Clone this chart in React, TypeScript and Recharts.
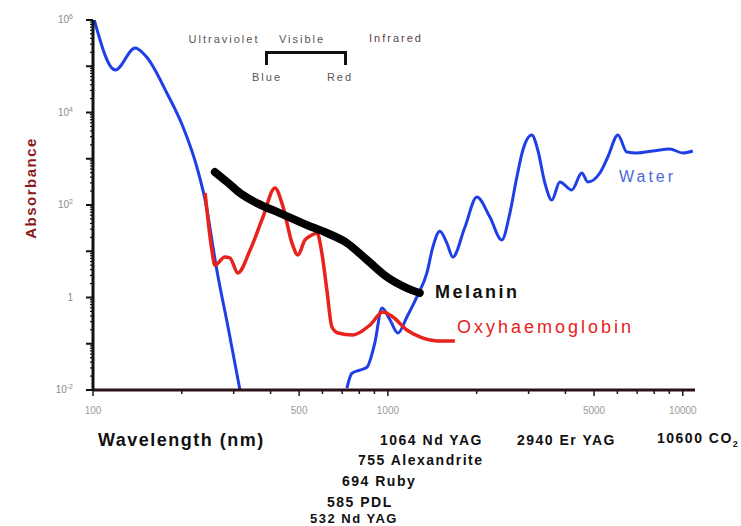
import React from "react";
import { LineChart, Line, XAxis, YAxis } from "recharts";

// absorption spectra, wavelength (nm) vs absorbance
const waterUv = [
  { w: 101, a: 1000000 },
  { w: 119, a: 83000 },
  { w: 139, a: 248000 },
  { w: 152, a: 158000 },
  { w: 178, a: 26400 },
  { w: 202, a: 4860 },
  { w: 225, a: 664 },
  { w: 240, a: 128 },
  { w: 263, a: 3.9 },
  { w: 287, a: 0.23 },
  { w: 315, a: 0.01 },
];

const waterIr = [
  { w: 726, a: 0.011 },
  { w: 755, a: 0.023 },
  { w: 804, a: 0.027 },
  { w: 849, a: 0.031 },
  { w: 903, a: 0.104 },
  { w: 955, a: 0.59 },
  { w: 1016, a: 0.33 },
  { w: 1081, a: 0.17 },
  { w: 1160, a: 0.38 },
  { w: 1254, a: 1.03 },
  { w: 1356, a: 3.4 },
  { w: 1421, a: 12.4 },
  { w: 1500, a: 27 },
  { w: 1585, a: 15 },
  { w: 1660, a: 7.5 },
  { w: 1824, a: 33 },
  { w: 2003, a: 149 },
  { w: 2217, a: 55 },
  { w: 2433, a: 17.5 },
  { w: 2592, a: 67 },
  { w: 2737, a: 403 },
  { w: 2869, a: 1545 },
  { w: 3077, a: 3265 },
  { w: 3223, a: 1545 },
  { w: 3406, a: 299 },
  { w: 3597, a: 128 },
  { w: 3828, a: 314 },
  { w: 4204, a: 211 },
  { w: 4545, a: 492 },
  { w: 4764, a: 314 },
  { w: 5233, a: 492 },
  { w: 5568, a: 1091 },
  { w: 6025, a: 3265 },
  { w: 6457, a: 1400 },
  { w: 6983, a: 1330 },
  { w: 7912, a: 1470 },
  { w: 9036, a: 1626 },
  { w: 10000, a: 1330 },
  { w: 10815, a: 1470 },
];

const oxyhaemoglobin = [
  { w: 240, a: 182 },
  { w: 253, a: 10.6 },
  { w: 259, a: 5 },
  { w: 280, a: 7.5 },
  { w: 291, a: 7.2 },
  { w: 310, a: 3.4 },
  { w: 341, a: 10.6 },
  { w: 377, a: 55 },
  { w: 414, a: 233 },
  { w: 441, a: 91 },
  { w: 473, a: 15 },
  { w: 495, a: 8.3 },
  { w: 523, a: 17.5 },
  { w: 553, a: 22.4 },
  { w: 575, a: 24.8 },
  { w: 597, a: 9.2 },
  { w: 621, a: 1.45 },
  { w: 646, a: 0.23 },
  { w: 677, a: 0.171 },
  { w: 761, a: 0.155 },
  { w: 869, a: 0.254 },
  { w: 962, a: 0.486 },
  { w: 1040, a: 0.379 },
  { w: 1160, a: 0.198 },
  { w: 1283, a: 0.14 },
  { w: 1466, a: 0.115 },
  { w: 1687, a: 0.115 },
];

const melanin = [
  { w: 259, a: 517 },
  { w: 285, a: 314 },
  { w: 315, a: 182 },
  { w: 360, a: 110 },
  { w: 430, a: 67 },
  { w: 531, a: 37 },
  { w: 621, a: 24.8 },
  { w: 726, a: 15.1 },
  { w: 849, a: 6.5 },
  { w: 993, a: 2.77 },
  { w: 1160, a: 1.6 },
  { w: 1283, a: 1.25 },
];

const xTicks = [100, 200, 300, 400, 500, 600, 700, 800, 900, 1000, 2000, 3000, 4000, 5000, 6000, 7000, 8000, 9000, 10000];
const xLabels = [100, 500, 1000, 5000, 10000];
const yDecades = [0.01, 0.1, 1, 10, 100, 1000, 10000, 100000, 1000000];
const yTicks = yDecades.flatMap((d) => (d < 1000000 ? [1, 2, 3, 4, 5, 6, 7, 8, 9].map((m) => m * d) : [d]));

const font = "'Liberation Sans', Arial, sans-serif";

const XTick = (props: any) => {
  const { x, y, payload } = props;
  const v = payload.value;
  const major = xLabels.includes(v);
  return (
    <g>
      <line x1={x} x2={x} y1={y} y2={y + (major ? 6 : 4)} stroke="#2a1216" strokeWidth={1.5} />
      {major && (
        <text x={x} y={y + 24} textAnchor="middle" fontSize={10} fill="#9a9a9a" fontFamily={font}>
          {v}
        </text>
      )}
    </g>
  );
};

const YTick = (props: any) => {
  const { x, y, payload } = props;
  const e = Math.log10(payload.value);
  const decade = Math.abs(e - Math.round(e)) < 1e-6;
  const exp = Math.round(e);
  const showLabel = decade && exp % 2 === 0;
  return (
    <g>
      <line x1={x} x2={x - (decade ? 7 : 3)} y1={y} y2={y} stroke="#111" strokeWidth={decade ? 2 : 1.2} />
      {showLabel && (
        <text x={x - 20} y={y + 3} textAnchor="end" fontSize={10} fill="#8a8a8a" fontFamily={font}>
          {exp === 0 ? "1" : "10"}
          {exp !== 0 && (
            <tspan dy={-4} fontSize={7}>
              {exp}
            </tspan>
          )}
        </text>
      )}
    </g>
  );
};

const Note = ({ x, y, size, color, weight = 400, spacing = 0, center = false, children }: any) => (
  <div
    style={{
      position: "absolute",
      left: x,
      top: y,
      transform: center ? "translate(-50%, -50%)" : "translate(0, -50%)",
      fontFamily: font,
      fontSize: size,
      fontWeight: weight,
      letterSpacing: spacing,
      color,
      whiteSpace: "nowrap",
      lineHeight: 1,
    }}
  >
    {children}
  </div>
);

export default function App() {
  return (
    <div style={{ position: "absolute", left: 0, top: 0, width: 741, height: 526, background: "#fff", overflow: "hidden" }}>
      <LineChart width={741} height={526} margin={{ top: 20, right: 46, bottom: 106, left: 33 }}>
        <XAxis
          dataKey="w"
          type="number"
          scale="log"
          domain={[100, 11000]}
          allowDataOverflow
          ticks={xTicks}
          interval={0}
          tick={<XTick />}
          tickLine={false}
          tickSize={0}
          tickMargin={0}
          height={30}
          axisLine={{ stroke: "#2a1216", strokeWidth: 3 }}
        />
        <YAxis
          dataKey="a"
          type="number"
          scale="log"
          domain={[0.01, 1000000]}
          allowDataOverflow
          ticks={yTicks}
          interval={0}
          tick={<YTick />}
          tickLine={false}
          tickSize={0}
          tickMargin={0}
          width={60}
          axisLine={{ stroke: "#111", strokeWidth: 3 }}
        />
        <Line data={waterUv} dataKey="a" type="monotone" stroke="#1f3fe6" strokeWidth={3} dot={false} isAnimationActive={false} />
        <Line data={waterIr} dataKey="a" type="monotone" stroke="#1f3fe6" strokeWidth={3} dot={false} isAnimationActive={false} />
        <Line data={oxyhaemoglobin} dataKey="a" type="monotone" stroke="#e8221c" strokeWidth={3.5} dot={false} isAnimationActive={false} />
        <Line data={melanin} dataKey="a" type="monotone" stroke="#000" strokeWidth={8} strokeLinecap="round" dot={false} isAnimationActive={false} />
      </LineChart>

      {/* spectrum bands */}
      <Note x={224} y={39} size={11} spacing={2} color="#555" center>Ultraviolet</Note>
      <Note x={302} y={39} size={11} spacing={2} color="#555" center>Visible</Note>
      <Note x={396} y={38} size={11} spacing={2} color="#5a4048" center>Infrared</Note>
      <Note x={267} y={77} size={11} spacing={2} color="#555" center>Blue</Note>
      <Note x={340} y={77} size={11} spacing={2} color="#555" center>Red</Note>
      <div style={{ position: "absolute", left: 265, top: 51, width: 76, height: 11, borderTop: "3px solid #111", borderLeft: "3px solid #111", borderRight: "3px solid #111" }} />

      {/* curve names */}
      <Note x={619} y={177} size={16} spacing={3} color="#4a6ad8">Water</Note>
      <Note x={435} y={292} size={18} spacing={2.5} weight={700} color="#111">Melanin</Note>
      <Note x={457} y={327} size={18} spacing={3} color="#e8221c">Oxyhaemoglobin</Note>

      {/* axis titles */}
      <div
        style={{
          position: "absolute",
          left: 30,
          top: 188,
          transform: "translate(-50%, -50%) rotate(-90deg)",
          fontFamily: font,
          fontSize: 15,
          fontWeight: 700,
          letterSpacing: 1.5,
          color: "#8b1a1a",
          whiteSpace: "nowrap",
          lineHeight: 1,
        }}
      >
        Absorbance
      </div>
      <Note x={98} y={440} size={18} spacing={1.5} weight={700} color="#111">Wavelength (nm)</Note>

      {/* laser lines */}
      <Note x={380} y={440} size={14} spacing={1.5} weight={700} color="#111">1064 Nd YAG</Note>
      <Note x={517} y={440} size={14} spacing={1.5} weight={700} color="#111">2940 Er YAG</Note>
      <Note x={657} y={440} size={14} spacing={1.5} weight={700} color="#111">
        10600 CO<sub style={{ fontSize: 9 }}>2</sub>
      </Note>
      <Note x={358} y={460} size={14} spacing={1.5} weight={700} color="#111">755 Alexandrite</Note>
      <Note x={342} y={481} size={14} spacing={1.5} weight={700} color="#111">694 Ruby</Note>
      <Note x={327} y={502} size={14} spacing={1.5} weight={700} color="#111">585 PDL</Note>
      <Note x={310} y={518} size={13} spacing={1.5} weight={700} color="#111">532 Nd YAG</Note>
    </div>
  );
}
